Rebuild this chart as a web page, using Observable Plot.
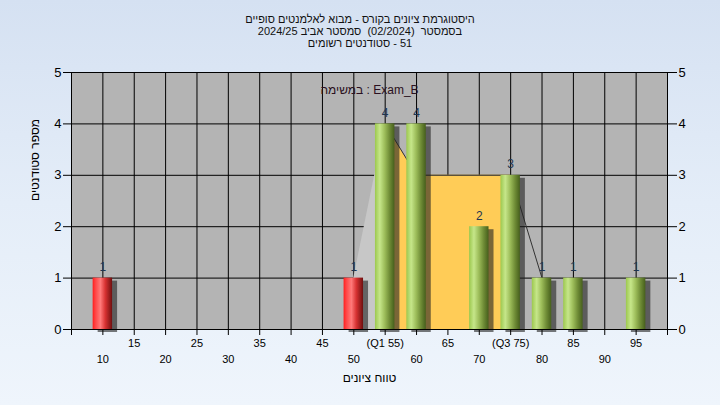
<!DOCTYPE html>
<html>
<head>
<meta charset="utf-8">
<script src="https://cdn.jsdelivr.net/npm/d3@7"></script>
<script src="https://cdn.jsdelivr.net/npm/@observablehq/plot@0.6"></script>
<style>
  html, body { margin: 0; padding: 0; }
  body {
    width: 720px; height: 405px; overflow: hidden; position: relative;
    background: linear-gradient(to bottom, #d5e1f2 0%, #e4edf8 50%, #eff5fc 100%);
    font-family: "Liberation Sans", Arial, sans-serif;
  }
  #title {
    position: absolute; top: 13px; left: 0; width: 720px; text-align: center;
    font-size: 11px; line-height: 12px; color: #111; direction: rtl;
  }
  #chart { position: absolute; top: 0; left: 0; }
</style>
</head>
<body>
<div id="chart"></div>
<div id="title">
  <div>היסטוגרמת ציונים בקורס - מבוא לאלמנטים סופיים</div>
  <div>בסמסטר&nbsp;&nbsp;(02/2024)&nbsp;&nbsp;סמסטר אביב 2024/25</div>
  <div>51 - סטודנטים רשומים</div>
</div>
<script>
// ---- data ----
const scores = [10, 50, 55, 60, 70, 75, 80, 85, 95];
const counts = [1, 1, 4, 4, 2, 3, 1, 1, 1];
const passScore = 55;
const q1 = 55, q3 = 75;
const polyScores = [50, 55, 60, 75, 80];
const polyCounts = [1, 4, 3, 3, 1];
const upperTicks = [15, 25, 35, 45, 55, 65, 75, 85, 95];
const lowerTicks = [10, 20, 30, 40, 50, 60, 70, 80, 90];
const yTicks = [0, 1, 2, 3, 4, 5];
const taskLabel = "במשימה : Exam_B";
const xTitle = "טווח ציונים";
const yTitle = "מספר סטודנטים";

const bars = scores.map((s, i) => ({s, c: counts[i]}));
const poly = polyScores.map((s, i) => ({s, c: polyCounts[i]}));
const hw = 1.55;
const fmtUpper = v => v === q1 ? `(Q1 ${v})` : v === q3 ? `(Q3 ${v})` : String(v);

const svg = Plot.plot({
  width: 720, height: 405,
  marginLeft: 71, marginRight: 53, marginTop: 72, marginBottom: 76,
  style: {background: "transparent", fontFamily: "Liberation Sans, Arial, sans-serif", fontSize: "12px", color: "#000"},
  x: {domain: [5, 100], axis: null},
  y: {domain: [0, 5], axis: null},
  marks: [
    Plot.frame({fill: "#b4b4b4", stroke: null}),
    Plot.ruleX(d3.range(10, 100, 5), {stroke: "#000", strokeWidth: 1}),
    Plot.ruleY([1, 2, 3, 4, 5], {stroke: "#000", strokeWidth: 1}),
    Plot.areaY(poly.filter(d => d.s <= q1), {x: "s", y: "c", fill: "#c7c7c7"}),
    Plot.areaY(poly.filter(d => d.s >= q1 && d.s <= q3), {x: "s", y: "c", fill: "#ffcc57"}),
    Plot.line(poly.filter(d => d.s >= q1), {x: "s", y: "c", stroke: "#333", strokeWidth: 1}),
    Plot.rectY(bars, {x1: d => d.s - hw, x2: d => d.s + hw, y: "c", dx: 5, dy: 3, fill: "#222", fillOpacity: 0.6, ariaLabel: "shadow"}),
    Plot.rectY(bars.filter(d => d.s < passScore), {x1: d => d.s - hw, x2: d => d.s + hw, y: "c", fill: "url(#gRed)"}),
    Plot.rectY(bars.filter(d => d.s >= passScore), {x1: d => d.s - hw, x2: d => d.s + hw, y: "c", fill: "url(#gGreen)"}),
    Plot.ruleX([5, 100], {stroke: "#000"}),
    Plot.ruleY([0], {stroke: "#000"}),
    Plot.text(bars, {x: "s", y: "c", text: "c", dy: -11, fill: "#1e3550", fontSize: 12}),
    Plot.text([taskLabel], {frameAnchor: "top", dy: 13, fill: "#2a1020", fontSize: 12}),
    Plot.axisX({ticks: d3.range(5, 101, 5), tickSize: 6, tickFormat: () => "", stroke: "#000", label: null}),
    Plot.text(upperTicks, {x: d => d, text: fmtUpper, frameAnchor: "bottom", dy: 17, fill: "#000", fontSize: 11}),
    Plot.text(lowerTicks, {x: d => d, text: d => String(d), frameAnchor: "bottom", dy: 33, fill: "#000", fontSize: 11}),
    Plot.axisY({anchor: "left", ticks: yTicks, tickFormat: "d", tickSize: 8, tickPadding: 2, fontSize: 13, stroke: "#000", label: null}),
    Plot.axisY({anchor: "right", ticks: yTicks, tickFormat: "d", tickSize: 9, tickPadding: 2, fontSize: 13, stroke: "#000", label: null}),
    Plot.text([xTitle], {frameAnchor: "bottom", dy: 52, fill: "#000", fontSize: 12}),
    Plot.text([yTitle], {frameAnchor: "left", dx: -36, rotate: -90, fill: "#000", fontSize: 12})
  ]
});

const s = d3.select(svg);
const defs = s.insert("defs", ":first-child");
const gr = defs.append("linearGradient").attr("id", "gRed").attr("x1", 0).attr("x2", 1).attr("y1", 0).attr("y2", 0);
[[0, "#ff1c1c"], [0.12, "#ff4040"], [0.4, "#ff7a7a"], [0.65, "#d83232"], [1, "#6e0f0f"]]
  .forEach(([o, c]) => gr.append("stop").attr("offset", o).attr("stop-color", c));
const gg = defs.append("linearGradient").attr("id", "gGreen").attr("x1", 0).attr("x2", 1).attr("y1", 0).attr("y2", 0);
[[0, "#9cc84e"], [0.25, "#c6e68a"], [0.5, "#9dbd5a"], [0.75, "#6f8c36"], [1, "#465f1c"]]
  .forEach(([o, c]) => gg.append("stop").attr("offset", o).attr("stop-color", c));
defs.append("filter").attr("id", "blur").attr("x", "-50%").attr("y", "-10%").attr("width", "200%").attr("height", "120%")
  .append("feGaussianBlur").attr("stdDeviation", 1.8);
s.selectAll('g[aria-label="shadow"]').attr("filter", "url(#blur)");

document.getElementById("chart").appendChild(svg);
</script>
</body>
</html>
